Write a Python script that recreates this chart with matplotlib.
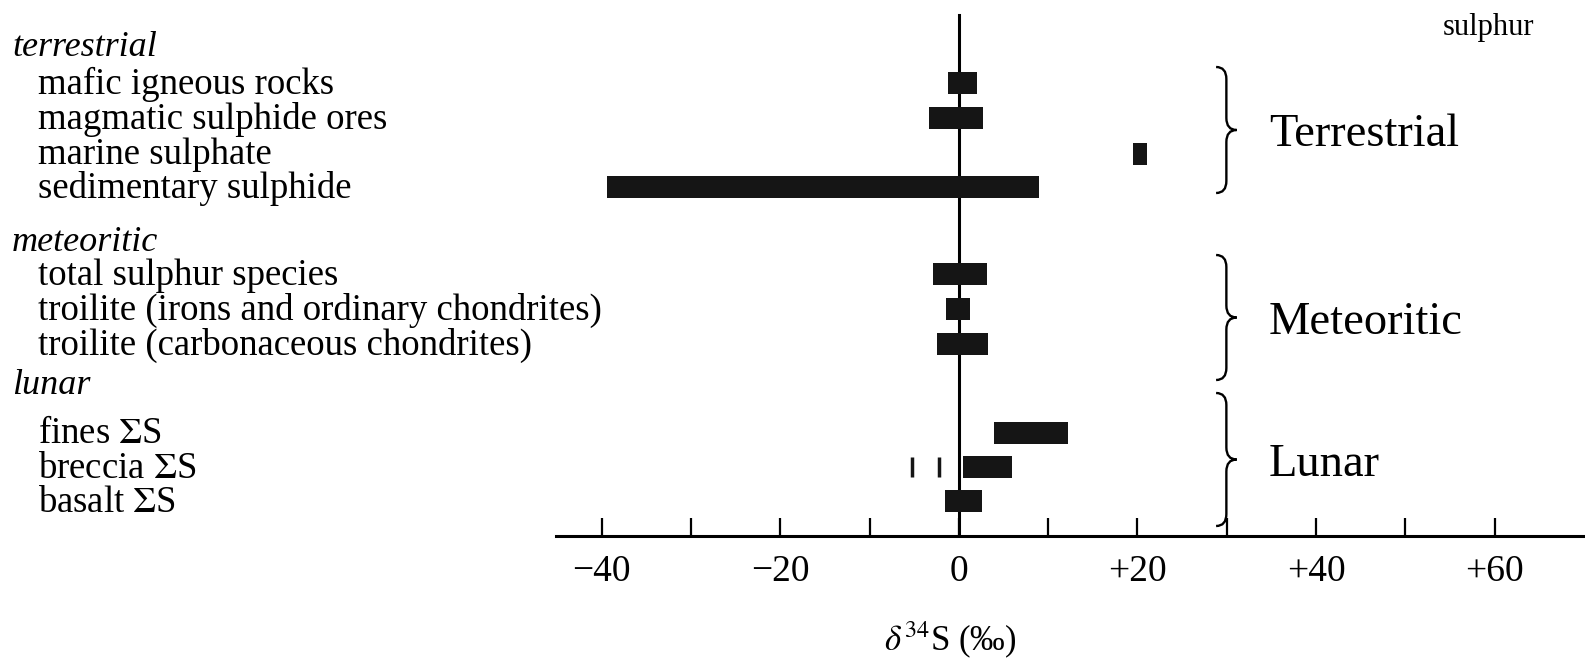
import numpy as np
import matplotlib.pyplot as plt
import matplotlib.transforms as mtransforms
from matplotlib.path import Path
from matplotlib.patches import PathPatch

plt.rcParams['font.family'] = ['Liberation Serif', 'DejaVu Serif']
plt.rcParams['mathtext.fontset'] = 'stix'

# delta34S ranges (per mil)
terrestrial_items = ["mafic igneous rocks", "magmatic sulphide ores",
                     "marine sulphate", "sedimentary sulphide"]
terrestrial_lo = [-1.2, -3.3, 19.5, -39.4]
terrestrial_hi = [2.0, 2.7, 21.1, 9.0]

meteoritic_items = ["total sulphur species",
                    "troilite (irons and ordinary chondrites)",
                    "troilite (carbonaceous chondrites)"]
meteoritic_lo = [-2.9, -1.4, -2.5]
meteoritic_hi = [3.1, 1.3, 3.3]

lunar_items = ["fines $\\Sigma$S", "breccia $\\Sigma$S", "basalt $\\Sigma$S"]
lunar_lo = [3.9, 0.5, -1.5]
lunar_hi = [12.2, 5.9, 2.6]
breccia_single = [-5.2, -2.2]

major_ticks = [-40, -20, 0, 20, 40, 60]
major_labels = ["\u221240", "\u221220", "0", "+20", "+40", "+60"]
minor_ticks = [-30, -10, 10, 30, 50]

# layout: row centres in pixels from the top of the figure
header_y = [45.5, 240.6, 384]
terr_y = [83, 118, 153.5, 187]
met_y = [274, 309, 343.5]
lun_y = [432.5, 467, 501]
text_dy = -2.5   # nudge labels up a bit relative to bars

fig = plt.figure(figsize=(15.85, 6.62), dpi=100)
W, H = 1585, 662
ax = fig.add_axes([556 / W, (H - 536) / H, (W - 556) / W, 536 / H])
ax.set_xlim(-45.1, 70.1)
ax.set_ylim(536, 0)

bar_color = '#151515'
bh = 22
ax.barh(terr_y, np.subtract(terrestrial_hi, terrestrial_lo), left=terrestrial_lo,
        height=bh, color=bar_color, zorder=3)
ax.barh(met_y, np.subtract(meteoritic_hi, meteoritic_lo), left=meteoritic_lo,
        height=bh, color=bar_color, zorder=3)
ax.barh(lun_y, np.subtract(lunar_hi, lunar_lo), left=lunar_lo,
        height=bh, color=bar_color, zorder=3)
ax.plot(breccia_single, [lun_y[1]] * len(breccia_single), ls='none', marker='|',
        ms=15, mew=2.5, color=bar_color)

# zero line
ax.axvline(0, ymin=0, ymax=(536 - 15) / 536, color='k', lw=2.2, zorder=2)

for s in ['left', 'top', 'right']:
    ax.spines[s].set_visible(False)
ax.spines['bottom'].set_linewidth(2.2)
ax.set_yticks([])
ax.set_xticks(major_ticks)
ax.set_xticklabels(major_labels, fontsize=27)
ax.set_xticks(minor_ticks, minor=True)
ax.tick_params(axis='x', which='both', direction='in', length=13, width=1.6, pad=13)

# left labels
tr = mtransforms.blended_transform_factory(fig.transFigure, ax.transData)
headers = ["terrestrial", "meteoritic", "lunar"]
groups = [(terrestrial_items, terr_y), (meteoritic_items, met_y), (lunar_items, lun_y)]
for h, hy, (items, ys) in zip(headers, header_y, groups):
    ax.text(12 / W, hy + text_dy, h, transform=tr, fontsize=26, style='italic',
            ha='left', va='center_baseline', clip_on=False)
    for it, yy in zip(items, ys):
        ax.text(38 / W, yy + text_dy, it, transform=tr, fontsize=26.5,
                ha='left', va='center_baseline', clip_on=False)


def brace(x0, y0, y1, w):
    xm = x0 + w * 0.5
    xt = x0 + w
    ym = (y0 + y1) / 2
    r = 12
    verts = [(x0, y0), (xm, y0), (xm, y0 + r), (xm, ym - r), (xm, ym), (xt, ym),
             (xm, ym), (xm, ym + r), (xm, y1 - r), (xm, y1), (x0, y1)]
    codes = [Path.MOVETO, Path.CURVE3, Path.CURVE3, Path.LINETO, Path.CURVE3,
             Path.CURVE3, Path.CURVE3, Path.CURVE3, Path.LINETO, Path.CURVE3, Path.CURVE3]
    ax.add_patch(PathPatch(Path(verts, codes), fill=False, lw=1.7,
                           edgecolor='k', clip_on=False))


group_names = ["Terrestrial", "Meteoritic", "Lunar"]
brace_spans = [(67, 193), (255, 380), (393, 526)]
for name, (b0, b1) in zip(group_names, brace_spans):
    brace(28.8, b0, b1, 2.3)
    ax.text((1269 - 959) / 8.93, (b0 + b1) / 2, name, fontsize=33.5,
            ha='left', va='center_baseline', clip_on=False)

fig.text(1534 / W, 1 - 28 / H, "sulphur", fontsize=22, ha='right', va='center')
fig.text(950 / W, 1 - 640 / H, r'$\delta^{34}$S (‰)', fontsize=25,
         ha='center', va='center')

fig.savefig('out.png', dpi=100)
